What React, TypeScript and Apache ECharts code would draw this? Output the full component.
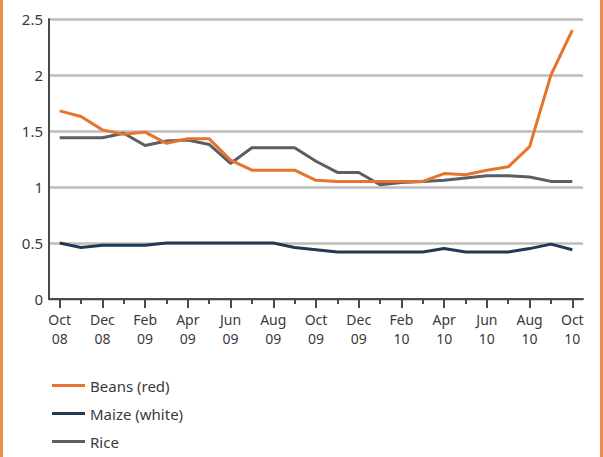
import React, { useEffect, useRef } from "react";
import * as echarts from "echarts";

const months = [
  "Oct\n08", "Nov\n08", "Dec\n08", "Jan\n09", "Feb\n09", "Mar\n09", "Apr\n09", "May\n09", "Jun\n09",
  "Jul\n09", "Aug\n09", "Sep\n09", "Oct\n09", "Nov\n09", "Dec\n09", "Jan\n10", "Feb\n10", "Mar\n10",
  "Apr\n10", "May\n10", "Jun\n10", "Jul\n10", "Aug\n10", "Sep\n10", "Oct\n10",
];

const beans = [1.68, 1.63, 1.51, 1.47, 1.49, 1.39, 1.43, 1.43, 1.24, 1.15, 1.15, 1.15, 1.06, 1.05, 1.05, 1.05, 1.05, 1.05, 1.12, 1.11, 1.15, 1.18, 1.36, 2.0, 2.4];
const maize = [0.5, 0.46, 0.48, 0.48, 0.48, 0.5, 0.5, 0.5, 0.5, 0.5, 0.5, 0.46, 0.44, 0.42, 0.42, 0.42, 0.42, 0.42, 0.45, 0.42, 0.42, 0.42, 0.45, 0.49, 0.44];
const rice = [1.44, 1.44, 1.44, 1.48, 1.37, 1.41, 1.42, 1.38, 1.21, 1.35, 1.35, 1.35, 1.23, 1.13, 1.13, 1.02, 1.04, 1.05, 1.06, 1.08, 1.1, 1.1, 1.09, 1.05, 1.05];

const yTicks = [0, 0.5, 1, 1.5, 2, 2.5];

const FONT = "Noto Sans";

export default function App() {
  const ref = useRef<HTMLDivElement>(null);
  useEffect(() => {
    if (!ref.current) return;
    const chart = echarts.init(ref.current, null, { renderer: "svg" });
    chart.setOption({
      animation: false,
      backgroundColor: "#ffffff",
      grid: { left: 49, right: 20, top: 19, bottom: 158, containLabel: false },
      xAxis: [
        {
          type: "category",
          data: months,
          boundaryGap: true,
          position: "bottom",
          axisLine: { show: true, lineStyle: { color: "#4a4a4a", width: 2 } },
          axisTick: { show: true, alignWithLabel: true, interval: 0, length: 5, lineStyle: { color: "#4a4a4a", width: 2 } },
          axisLabel: { show: false },
        },
        {
          type: "category",
          data: months,
          boundaryGap: true,
          position: "bottom",
          axisLine: { show: false },
          axisTick: { show: true, alignWithLabel: true, interval: 1, length: 9, lineStyle: { color: "#4a4a4a", width: 2 } },
          axisLabel: {
            show: true,
            interval: 1,
            color: "#3a3a3a",
            fontFamily: FONT,
            fontSize: 14,
            lineHeight: 19,
            margin: 11,
          },
        },
      ],
      yAxis: {
        type: "value",
        min: 0,
        max: 2.5,
        interval: 0.5,
        axisLine: { show: true, lineStyle: { color: "#4a4a4a", width: 2 } },
        axisTick: { show: false },
        axisLabel: {
          color: "#3a3a3a",
          fontFamily: FONT,
          fontSize: 15,
          margin: 6,
          formatter: (v: number) => (yTicks.includes(v) ? String(v) : ""),
        },
        splitLine: { show: true, lineStyle: { color: "#bdbdbd", width: 2.5 } },
      },
      legend: {
        orient: "vertical",
        left: 47,
        top: 373,
        itemWidth: 33,
        itemHeight: 3,
        itemGap: 13,
        icon: "rect",
        textStyle: { color: "#3a3a3a", fontFamily: FONT, fontSize: 15, padding: [0, 0, 0, 0] },
        data: ["Beans (red)", "Maize (white)", "Rice"],
      },
      graphic: [
        { type: "rect", left: 0, top: 0, shape: { width: 3, height: 457 }, style: { fill: "#ee8a4c" } },
        { type: "rect", left: 600, top: 0, shape: { width: 3, height: 457 }, style: { fill: "#ee8a4c" } },
      ],
      series: [
        {
          name: "Maize (white)",
          type: "line",
          data: maize,
          showSymbol: false,
          symbol: "none",
          color: "#1f3a55",
          lineStyle: { color: "#1f3a55", width: 3 },
          z: 2,
        },
        {
          name: "Rice",
          type: "line",
          data: rice,
          showSymbol: false,
          symbol: "none",
          color: "#595f63",
          lineStyle: { color: "#595f63", width: 3 },
          z: 3,
        },
        {
          name: "Beans (red)",
          type: "line",
          data: beans,
          showSymbol: false,
          symbol: "none",
          color: "#e8732c",
          lineStyle: { color: "#e8732c", width: 3 },
          z: 4,
        },
      ],
    });
    return () => chart.dispose();
  }, []);
  return (
    <div
      ref={ref}
      style={{ position: "fixed", left: 0, top: 0, width: 603, height: 457, background: "#fff" }}
    />
  );
}
